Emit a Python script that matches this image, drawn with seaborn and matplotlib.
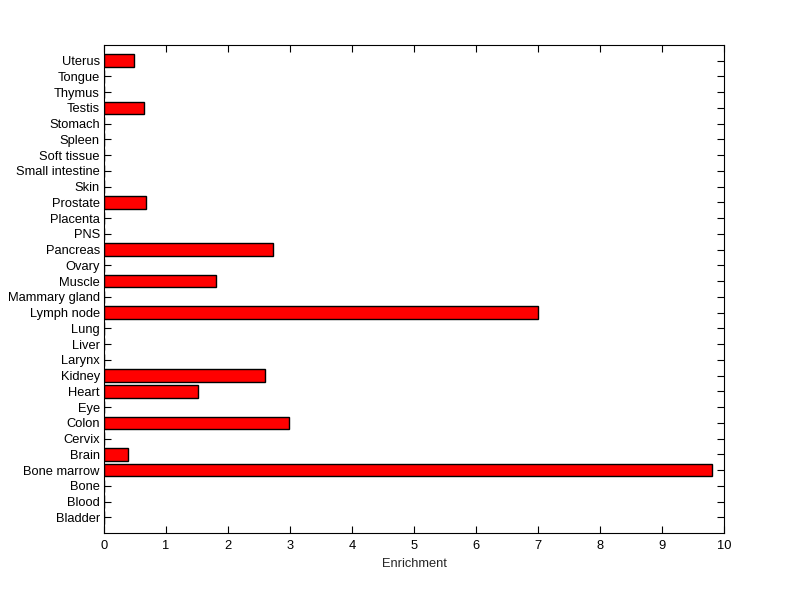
import matplotlib
matplotlib.use("Agg")
import matplotlib.pyplot as plt
import seaborn as sns
import pandas as pd

tissues = ["Bladder", "Blood", "Bone", "Bone marrow", "Brain", "Cervix", "Colon", "Eye",
           "Heart", "Kidney", "Larynx", "Liver", "Lung", "Lymph node", "Mammary gland",
           "Muscle", "Ovary", "Pancreas", "PNS", "Placenta", "Prostate", "Skin",
           "Small intestine", "Soft tissue", "Spleen", "Stomach", "Testis", "Thymus",
           "Tongue", "Uterus"]
enrichment = [0, 0, 0, 9.81, 0.38, 0, 2.99, 0,
              1.52, 2.59, 0, 0, 0, 7.0, 0,
              1.80, 0, 2.72, 0, 0, 0.67, 0,
              0, 0, 0, 0, 0.65, 0,
              0, 0.49]
xticks = [0, 1, 2, 3, 4, 5, 6, 7, 8, 9, 10]

df = pd.DataFrame({"Tissue": tissues, "Enrichment": enrichment})

sns.set_style("white")
plt.rcParams["font.family"] = ["Liberation Sans", "DejaVu Sans"]

fig = plt.figure(figsize=(8.0, 5.99), dpi=100)
ax = fig.add_axes([0.13, 0.110, 0.775, 0.815])

sns.barplot(data=df, x="Enrichment", y="Tissue", order=tissues[::-1], orient="h",
            color="#ff0000", saturation=1, width=0.8, edgecolor="black", linewidth=1,
            ax=ax)

ax.set_xlim(0, 10)
ax.set_ylim(30, -1)
ax.set_xticks(xticks)
ax.set_xlabel("Enrichment", fontsize=9.3, labelpad=4)
ax.set_ylabel("")
for s in ax.spines.values():
    s.set_visible(True)
    s.set_color("black")
    s.set_linewidth(0.8)
ax.tick_params(axis="both", direction="in", length=5, width=0.8, labelsize=9.3,
               colors="black", top=True, right=True, bottom=True, left=True)
ax.tick_params(axis="x", pad=5)
ax.tick_params(axis="y", pad=3)

fig.savefig("out.png", dpi=100, facecolor="white")
